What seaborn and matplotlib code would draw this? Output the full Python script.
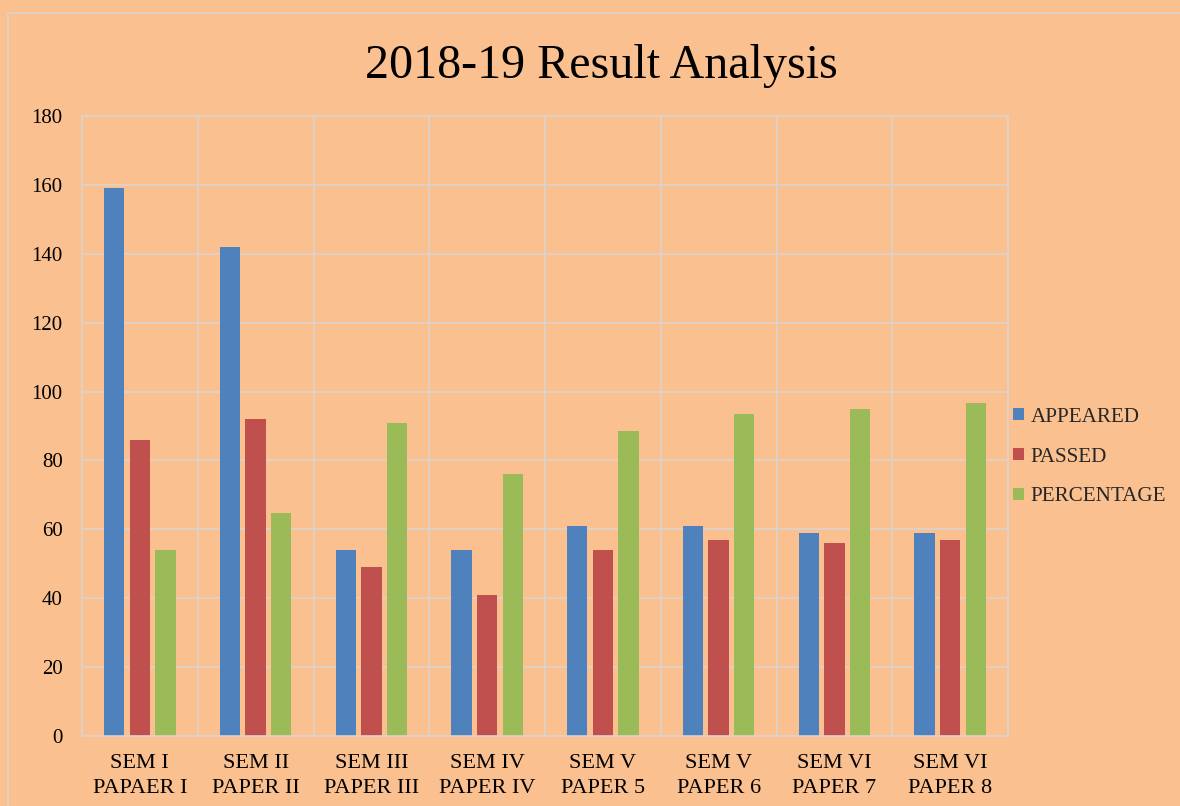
import matplotlib
matplotlib.use("Agg")
import matplotlib.pyplot as plt
from matplotlib.patches import Rectangle
import numpy as np
import pandas as pd
import seaborn as sns

# Exam result figures per semester paper
categories = ["SEM I\nPAPAER I", "SEM II\nPAPER II", "SEM III\nPAPER III", "SEM IV\nPAPER IV",
              "SEM V\nPAPER 5", "SEM V\nPAPER 6", "SEM VI\nPAPER 7", "SEM VI\nPAPER 8"]
appeared = [159, 142, 54, 54, 61, 61, 59, 59]
passed = [86, 92, 49, 41, 54, 57, 56, 57]
percentage = [54.09, 64.79, 90.74, 75.93, 88.52, 93.44, 94.92, 96.61]
series_names = ["APPEARED", "PASSED", "PERCENTAGE"]
y_ticks = [0, 20, 40, 60, 80, 100, 120, 140, 160, 180]

colors = ["#4F81BD", "#C0504D", "#9BBB59"]
bg = "#FAC090"
grid_col = "#DCD3CB"

df = pd.DataFrame({
    "category": categories * 3,
    "series": [s for s in series_names for _ in categories],
    "value": appeared + passed + percentage,
})

sns.set_theme(style="white")
plt.rcParams["font.family"] = ["Liberation Serif", "DejaVu Serif"]

fig = plt.figure(figsize=(11.8, 8.06), dpi=100, facecolor=bg)
ax = fig.add_axes([82 / 1180, 1 - 736 / 806, (1008 - 82) / 1180, (736 - 116) / 806])
ax.set_facecolor(bg)

sns.barplot(data=df, x="category", y="value", hue="series", order=categories,
            hue_order=series_names, palette=colors, width=0.666, gap=0.21,
            saturation=1, ax=ax, edgecolor="none", linewidth=0)

ax.set_xlim(-0.5, len(categories) - 0.5)
ax.set_ylim(0, 180)
ax.set_yticks(y_ticks)
ax.set_yticklabels([str(t) for t in y_ticks], fontsize=15, color="black")
ax.set_xticks(range(len(categories)))
ax.set_xticklabels(categories, fontsize=16, color="black", linespacing=1.4)
ax.set_xticks(np.arange(-0.5, len(categories), 1.0), minor=True)
ax.tick_params(axis="both", which="both", length=0)
ax.tick_params(axis="y", pad=14)
ax.tick_params(axis="x", pad=13)
ax.set_xlabel("")
ax.set_ylabel("")

ax.grid(axis="y", which="major", color=grid_col, linewidth=1.2)
ax.grid(axis="x", which="minor", color=grid_col, linewidth=1.2)
ax.set_axisbelow(True)
for sp in ax.spines.values():
    sp.set_color(grid_col)
    sp.set_linewidth(1.2)

ax.legend(loc="center left", bbox_to_anchor=(1013 / 1180, 1 - 457 / 806),
          bbox_transform=fig.transFigure, frameon=False, fontsize=15.2,
          handlelength=0.52, handleheight=0.52, handletextpad=0.3,
          labelspacing=0.98, borderpad=0, borderaxespad=0)

fig.text(601 / 1180, 1 - 66 / 806, "2018-19 Result Analysis", ha="center", va="center",
         fontsize=34.6, color="black")

# Chart area border
fig.add_artist(Rectangle((8 / 1180, -0.1), 1.2, 1.1 - 13 / 806,
                         transform=fig.transFigure, fill=False,
                         edgecolor=grid_col, linewidth=1.2))

fig.savefig("out.png", dpi=100, facecolor=bg)
